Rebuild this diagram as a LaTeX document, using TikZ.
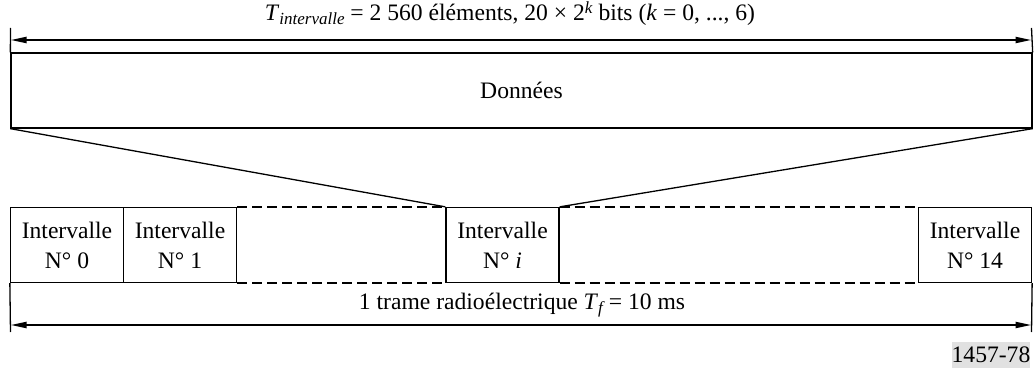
\documentclass[tikz,border=0pt]{standalone}
\usepackage{fontspec}
\setmainfont{Liberation Serif}
\usetikzlibrary{arrows.meta}
\definecolor{labelgray}{RGB}{225,225,225}

\begin{document}
\begin{tikzpicture}[x=0.5pt,y=-0.5pt,
  every node/.style={font=\fontsize{11.8}{15}\selectfont},
  box/.style={draw,line width=0.65pt,inner sep=0pt,align=center},
  slot/.style={box,minimum width=56.5pt,minimum height=37.5pt},
  dimline/.style={line width=1pt,{Triangle[length=8pt,width=3pt]}-{Triangle[length=8pt,width=3pt]}},
  gapline/.style={line width=1.1pt,dash pattern=on 5pt off 2.5pt},
  tick/.style={line width=0.65pt}]
  \useasboundingbox (0,0) rectangle (1034,369);
  % data field of one slot
  \node[box,minimum width=510.5pt,minimum height=37.5pt] (data) at (521.5,90.5) {Données};
  \coordinate (tl) at (10.5,28);
  \coordinate (tr) at (1031.5,28);
  \coordinate (al) at (10.5,40);
  \coordinate (ar) at (1031.5,40);
  \draw[tick] (tl) -- (data.north west);
  \draw[tick] (tr) -- (data.north east);
  \draw[dimline] (al) -- (ar);
  \node (tint) at (510,14) {\textit{T}{\fontsize{8.5}{10}\selectfont\raisebox{-0.45ex}{\textit{intervalle}}} = 2~560 éléments, 20 × 2{\fontsize{8.5}{10}\selectfont\raisebox{0.9ex}{\textit{k}}} bits (\textit{k} = 0, ..., 6)};
  % slots of the frame
  \node[slot] (s0)  at (67,245)    {Intervalle\\N° 0};
  \node[slot] (s1)  at (180,245)   {Intervalle\\N° 1};
  \node[slot] (si)  at (502.5,245) {Intervalle\\N° \textit{i}};
  \node[slot] (s14) at (975,245)   {Intervalle\\N° 14};
  \draw[gapline] (s1.north east) -- (si.north west);
  \draw[gapline] (s1.south east) -- (si.south west);
  \draw[gapline] (si.north east) -- (s14.north west);
  \draw[gapline] (si.south east) -- (s14.south west);
  % zoom lines
  \draw[tick] (data.south west) -- (si.north west);
  \draw[tick] (data.south east) -- (si.north east);
  % frame length
  \coordinate (bl) at (10.5,332);
  \coordinate (br) at (1031.5,332);
  \coordinate (cl) at (10.5,325);
  \coordinate (cr) at (1031.5,325);
  \draw[tick] (s0.south west) -- (bl);
  \draw[tick] (s14.south east) -- (br);
  \draw[dimline] (cl) -- (cr);
  \node (tf) at (522,305) {1 trame radioélectrique \textit{T}{\fontsize{8.5}{10}\selectfont\raisebox{-0.45ex}{\textit{f}}}\,= 10 ms};
  \node[fill=labelgray,inner sep=0pt,minimum width=39pt,minimum height=13pt] (fig) at (991,355) {1457-78};
\end{tikzpicture}
\end{document}
